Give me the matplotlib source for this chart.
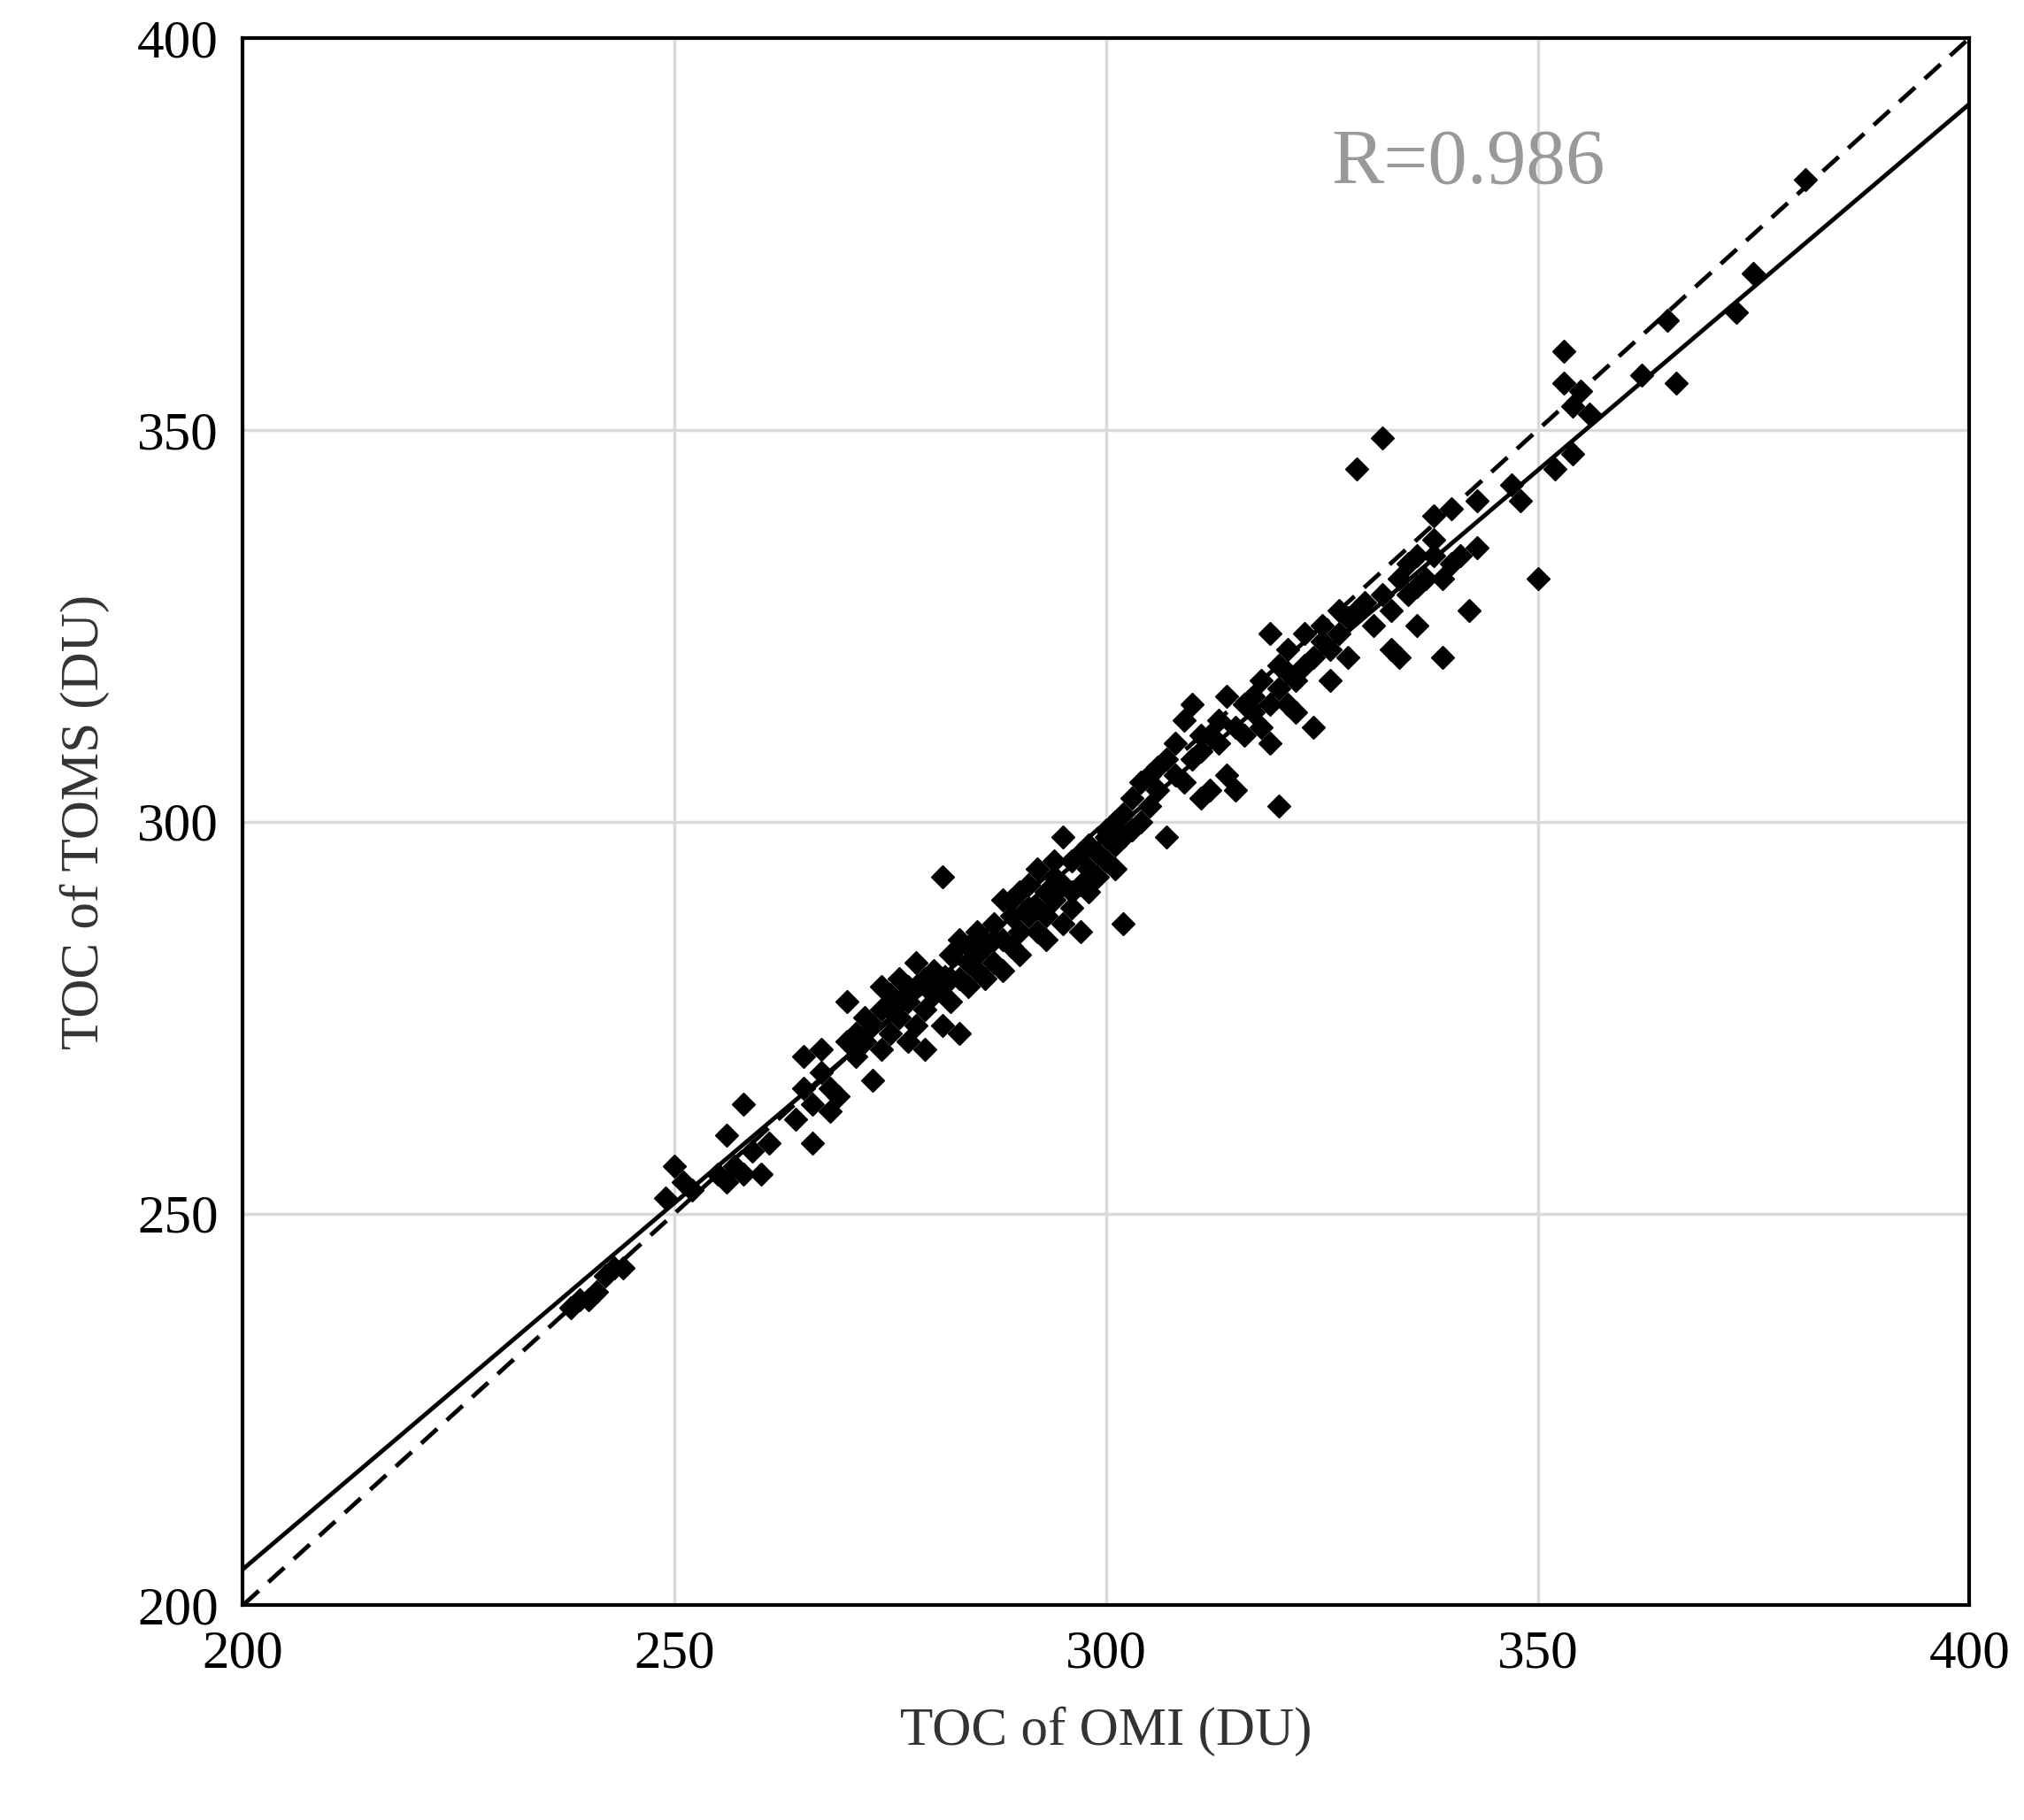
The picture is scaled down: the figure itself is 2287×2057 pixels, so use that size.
import numpy as np
import matplotlib.pyplot as plt

plt.rcParams['font.family'] = ['Liberation Serif', 'DejaVu Serif']

# TOC pairs (OMI, TOMS)
pts = [(238,238),(239,239),(240,239),(241,240),(242,242),(243,243),(244,243),
       (249,252),(250,256),(251,254),(252,253),(255,255),(256,254),(256,260),(257,256),(258,255),(258,264),(259,258),(260,255),(261,259),
       (264,262),(265,266),(265,270),(266,259),(266,264),(267,268),(267,271),(268,263),(268,266),(269,265),(270,272),(270,277),(271,270),
       (272,272),(272,275),(273,267),(273,274),(274,271),(274,276),(274,279),(275,273),(275,278),(276,275),(276,280),(277,272),(277,277),
       (278,274),(278,279),(278,282),(279,276),(279,271),(280,278),(280,281),(281,274),(281,293),(281,279),(282,277),(282,283),(283,273),
       (283,280),(283,285),(284,279),(284,282),(285,281),(285,286),(286,280),(286,284),(287,282),(287,287),(288,281),(288,285),(288,290),
       (289,284),(289,288),(290,286),(290,283),(290,291),(291,288),(291,292),(292,286),(292,289),(293,288),(293,291),(293,285),(294,290),
       (294,293),(295,287),(295,292),(295,298),(296,289),(296,291),(296,295),(297,292),(297,286),(298,294),(298,291),(299,296),(299,293),
       (300,295),(300,298),(301,297),(301,294),(302,298),(302,287),(302,301),(303,299),(303,303),(304,300),(304,305),(305,302),(305,306),
       (306,304),(307,308),(307,298),(308,306),(308,310),(309,305),(309,313),(310,308),(310,315),(311,303),(311,309),(312,311),(312,304),
       (313,310),(313,313),(314,306),(314,316),(315,312),(315,304),(316,311),(317,314),(317,316),(318,312),(318,318),(319,310),(319,315),
       (319,324),(320,302),(320,317),(320,320),(321,315),(321,322),(322,318),(322,314),(323,320),(323,324),(324,312),(324,321),(325,323),
       (325,325),(326,318),(326,322),(327,324),(328,321),(328,326),(329,345),(329,327),(330,328),(331,325),(332,349),(332,329),(333,322),
       (333,327),(334,321),(334,331),(335,329),(335,333),(336,325),(336,330),(337,331),(338,334),(338,339),(339,321),(339,331),(340,340),
       (340,333),(341,334),(342,327),(343,335),(343,341),(347,343),(348,341),(350,331),(352,345),(353,360),(353,356),(354,347),(354,353),
       (355,355),(356,352),(362,357),(365,364),(366,356),(373,365),(375,370),(381,382),(300,299),(297,296),(285,283),(276,277),(292,294),
       (279,280),(284,284),(289,290),(291,289),(294,295),(298,297),(301,300),(287,285),(282,280),(277,279),(275,276),(271,273),
       (306,307),(311,311),(316,315),(321,319),(327,327),(336,334),(338,336)]
omi = np.array([p[0] for p in pts])
toms = np.array([p[1] for p in pts])

fit_slope = 0.935
fit_icpt = 17.6

fig = plt.figure(figsize=(22.87, 20.57), dpi=100)
ax = fig.add_axes([0.12, 0.118, 0.853, 0.861])
ax.grid(True, color='#d9d9d9', lw=2.5)
ax.set_axisbelow(True)
ax.plot(omi, toms, 'D', color='black', ms=13, zorder=3)
xl = np.array([200, 400])
ax.plot(xl, xl, '--', color='black', lw=3.5, dashes=(5, 3), zorder=4)
ax.plot(xl, fit_slope * xl + fit_icpt, '-', color='black', lw=3.5, zorder=4)
ax.set_xlim(200, 400)
ax.set_ylim(200, 400)
ax.set_xticks([200, 250, 300, 350, 400])
ax.set_yticks([200, 250, 300, 350, 400])
ax.tick_params(length=0, labelsize=44, pad=20)
for s in ax.spines.values():
    s.set_linewidth(3)
ax.set_xlabel('TOC of OMI (DU)', fontsize=44, color='#333333', labelpad=22)
ax.set_ylabel('TOC of TOMS (DU)', fontsize=44, color='#333333', labelpad=22)
ax.text(342, 384, 'R=0.986', fontsize=64, color='#999999', ha='center', va='center')
fig.savefig('out.png')
